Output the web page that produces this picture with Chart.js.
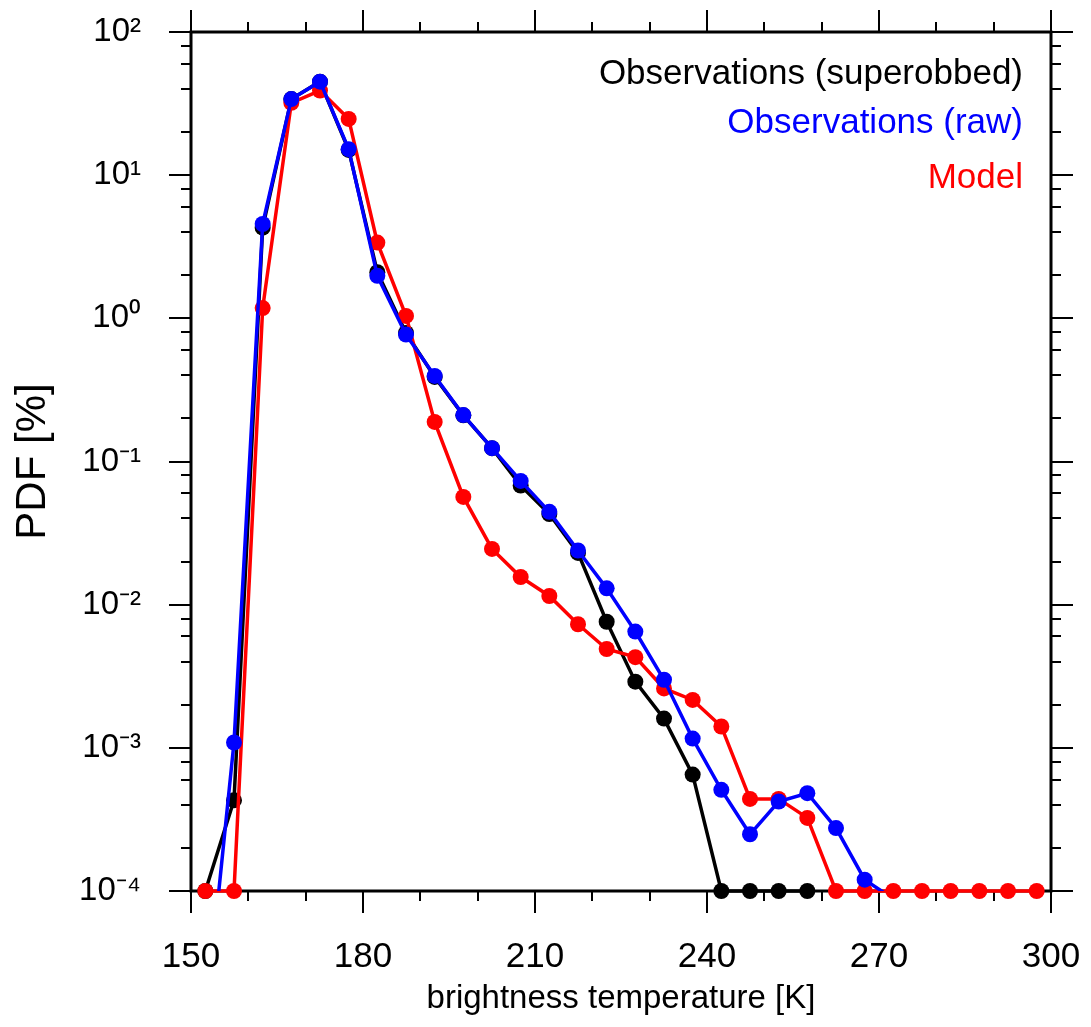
<!DOCTYPE html>
<html>
<head>
<meta charset="utf-8">
<script src="https://cdn.jsdelivr.net/npm/chart.js@4.4.1/dist/chart.umd.min.js"></script>
<style>
  html, body { margin: 0; padding: 0; background: #fff; }
  canvas { display: block; }
</style>
</head>
<body>
<canvas id="pdf-chart" width="1091" height="1027"></canvas>
<script>
// bin centres of the brightness temperature histogram [K]
const binCenters = [152.5, 157.5, 162.5, 167.5, 172.5, 177.5, 182.5, 187.5, 192.5, 197.5,
                    202.5, 207.5, 212.5, 217.5, 222.5, 227.5, 232.5, 237.5, 242.5, 247.5,
                    252.5, 257.5, 262.5, 267.5, 272.5, 277.5, 282.5, 287.5, 292.5, 297.5];

// PDF [%]
const obsSuperobbed = [1e-4, 4.3e-4, 4.3, 34, 45, 15, 2.1, 0.79, 0.39, 0.21,
                       0.124, 0.068, 0.043, 0.023, 0.0076, 0.0029, 0.0016, 0.00065, 1e-4, 1e-4,
                       1e-4, 1e-4, null, null, null, null, null, null, null, null];
const obsRaw = [1.2e-5, 0.00109, 4.56, 34, 45, 15.2, 1.98, 0.77, 0.396, 0.211,
                0.124, 0.0732, 0.0445, 0.0239, 0.013, 0.00649, 0.00299, 0.00116, 0.000509, 0.000249,
                0.000422, 0.000482, 0.000275, 0.00012, 8.8e-5, null, null, null, null, null];
const model = [1e-4, 1e-4, 1.18, 32, 39, 24.7, 3.38, 1.04, 0.189, 0.0566,
               0.0245, 0.0156, 0.0115, 0.0073, 0.0049, 0.0043, 0.0026, 0.00216, 0.00141, 0.00044,
               0.00044, 0.000324, 1e-4, 1e-4, 1e-4, 1e-4, 1e-4, 1e-4, 1e-4, 1e-4];

const seriesNames = ["Observations (superobbed)", "Observations (raw)", "Model"];
const seriesColors = ["#000000", "#0000ff", "#ff0000"];

const yTickValues = [1e-4, 1e-3, 1e-2, 1e-1, 1, 10, 100];
const yTickLabels = ["10\u207B\u2074", "10\u207B\u00B3", "10\u207B\u00B2", "10\u207B\u00B9", "10\u2070", "10\u00B9", "10\u00B2"];

const sansFont = '"Liberation Sans", Arial, Helvetica, sans-serif';

function toPoints(values) {
    return binCenters.map((x, i) => ({ x: x, y: values[i] }));
}

function makeDataset(i, values, order, clipBottom) {
    return {
        label: seriesNames[i],
        data: toPoints(values),
        borderColor: seriesColors[i],
        backgroundColor: seriesColors[i],
        borderWidth: 3.5,
        pointRadius: 8,
        pointHoverRadius: 8,
        pointBorderWidth: 0,
        tension: 0,
        spanGaps: false,
        order: order,
        clip: { left: 12, right: 12, top: 12, bottom: clipBottom }
    };
}

// box + outward ticks on all four sides
const frameTicks = {
    id: "frameTicks",
    beforeDatasetsDraw(chart) {
        const { ctx, chartArea: a, scales: { x, y } } = chart;
        const seg = (x0, y0, x1, y1) => {
            ctx.beginPath();
            ctx.moveTo(x0, y0);
            ctx.lineTo(x1, y1);
            ctx.stroke();
        };
        ctx.save();
        ctx.strokeStyle = "#000";
        ctx.lineWidth = 3;
        ctx.strokeRect(a.left, a.top, a.right - a.left, a.bottom - a.top);
        ctx.lineWidth = 2;
        for (let v = 150; v <= 300; v += 10) {
            const px = Math.round(x.getPixelForValue(v));
            const len = v % 30 === 0 ? 22 : 10;
            seg(px, a.bottom, px, a.bottom + len);
            seg(px, a.top, px, a.top - len);
        }
        for (let e = -4; e <= 2; e++) {
            for (const m of [1, 2, 4, 6, 8]) {
                if (e === 2 && m > 1) break;
                const py = Math.round(y.getPixelForValue(m * Math.pow(10, e)));
                const len = m === 1 ? 22 : 10;
                seg(a.left, py, a.left - len, py);
                seg(a.right, py, a.right + len, py);
            }
        }
        ctx.restore();
    }
};

// legend as coloured text in the upper right corner
const textLegend = {
    id: "textLegend",
    afterDraw(chart) {
        const { ctx, chartArea: a } = chart;
        const baselines = [52, 101, 156];
        ctx.save();
        ctx.font = "35px " + sansFont;
        ctx.textAlign = "right";
        ctx.textBaseline = "alphabetic";
        seriesNames.forEach((name, i) => {
            ctx.fillStyle = seriesColors[i];
            ctx.fillText(name, a.right - 28, a.top + baselines[i]);
        });
        ctx.restore();
    }
};

new Chart(document.getElementById("pdf-chart"), {
    type: "line",
    data: {
        datasets: [
            makeDataset(0, obsSuperobbed, 2, 12),
            makeDataset(1, obsRaw, 0, 0),
            makeDataset(2, model, 1, 12)
        ]
    },
    options: {
        responsive: false,
        animation: false,
        devicePixelRatio: 1,
        layout: { padding: { top: 32, right: 40, bottom: 0, left: 0 } },
        plugins: {
            legend: { display: false },
            tooltip: { enabled: false }
        },
        scales: {
            x: {
                type: "linear",
                min: 150,
                max: 300,
                // invisible tick marks only push the labels down
                grid: { display: true, drawOnChartArea: false, drawTicks: true, tickLength: 45, tickColor: "rgba(0,0,0,0)" },
                border: { display: false },
                ticks: {
                    stepSize: 30,
                    color: "#000",
                    padding: 0,
                    maxRotation: 0,
                    font: { family: sansFont, size: 35 }
                },
                title: {
                    display: true,
                    text: "brightness temperature [K]",
                    color: "#000",
                    padding: { top: 0, bottom: 8 },
                    font: { family: sansFont, size: 33 }
                },
                afterFit(scale) { scale.height = 136; }
            },
            y: {
                type: "logarithmic",
                min: 1e-4,
                max: 100,
                grid: { display: true, drawOnChartArea: false, drawTicks: true, tickLength: 50, tickColor: "rgba(0,0,0,0)" },
                border: { display: false },
                afterBuildTicks(scale) {
                    scale.ticks = yTickValues.map(v => ({ value: v }));
                },
                ticks: {
                    color: "#000",
                    padding: 0,
                    font: { family: sansFont, size: 33 },
                    callback: (value) => yTickLabels[yTickValues.indexOf(value)] || ""
                },
                title: {
                    display: true,
                    text: "PDF [%]",
                    color: "#000",
                    padding: { top: 8, bottom: 0 },
                    font: { family: sansFont, size: 42 }
                },
                afterFit(scale) { scale.width = 191; }
            }
        }
    },
    plugins: [frameTicks, textLegend]
});
</script>
</body>
</html>
